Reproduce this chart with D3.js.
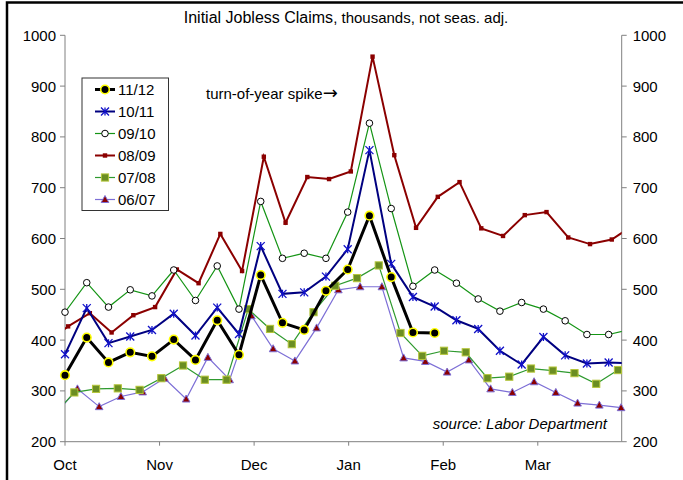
<!DOCTYPE html>
<html>
<head>
<meta charset="utf-8">
<script src="https://cdn.jsdelivr.net/npm/d3@7/dist/d3.min.js"></script>
<style>
  body { margin: 0; background: #fff; }
  svg { display: block; font-family: Arial, "Liberation Sans", sans-serif; }
</style>
</head>
<body>
<div class="svgContainer"></div>
<script>
// Statics
var MONTHS = ["Oct", "Nov", "Dec", "Jan", "Feb", "Mar"];
var Y_TICKS = [200, 300, 400, 500, 600, 700, 800, 900, 1000];
var SEASONS = ["11/12", "10/11", "09/10", "08/09", "07/08", "06/07"];

// weekly initial claims (thousands), week 0 = first week of October
var claims1112 = [331, 405, 356, 376, 368, 401, 361, 439, 371, 528, 434, 420, 497, 539, 645, 524, 415, 414];
var claims1011 = [372, 463, 394, 407, 420, 452, 409, 464, 412, 585, 491, 494, 525, 579, 774, 550, 485, 466, 439, 422, 379, 352, 406, 370, 354, 356];
var claims0910 = [455, 513, 465, 499, 487, 538, 478, 546, 461, 673, 561, 571, 561, 652, 827, 659, 506, 538, 512, 481, 457, 474, 461, 438, 411, 411];
var claims0809 = [427, 453, 415, 449, 465, 539, 512, 609, 536, 761, 631, 721, 717, 732, 958, 764, 621, 682, 711, 620, 605, 646, 652, 602, 589, 598];
var claims0708 = [297, 304, 305, 302, 325, 350, 322, 322, 461, 422, 392, 455, 507, 522, 547, 414, 369, 379, 376, 325, 328, 344, 340, 335, 314, 341];
var claims0607 = [304, 269, 289, 298, 325, 284, 366, 322, 448, 383, 359, 424, 499, 505, 505, 365, 358, 337, 361, 304, 297, 318, 297, 276, 272, 267];
// the week just before / after the window (only the cut-off line ends show)
var claimsBefore = [null, null, null, 395, 250, 255];
var claimsAfter = [null, 354, 421, 626, 360, 265];
// calendar shift of each season's weeks, in days
var SHIFT_DAYS = [0, 0, 0, 1, 3, 4];
// End statics

var ALL = [claims1112, claims1011, claims0910, claims0809, claims0708, claims0607];

var W = 683, H = 480;
var plot = {left: 65, right: 621.7, top: 35.3, bottom: 441.7};
var WEEKS_PER_MONTH = 365.25 / 7 / 12;

var svg = d3.select(".svgContainer").append("svg")
    .attr("width", W)
    .attr("height", H);

// frame
svg.append("path")
    .attr("d", "M7,482 L7,2.5 L690,2.5")
    .attr("fill", "none")
    .attr("stroke", "#000")
    .attr("stroke-width", 2.5);

var x = d3.scaleLinear()
    .domain([0, 25.6])
    .range([plot.left, plot.right]);

var y = d3.scaleLinear()
    .domain([200, 1000])
    .range([plot.bottom, plot.top]);

// line + marker style of each season
var STYLE = [
    {line: "#000000", width: 3,   marker: "dot"},
    {line: "#000080", width: 2,   marker: "star"},
    {line: "#149414", width: 1.2, marker: "ring"},
    {line: "#8b0000", width: 2,   marker: "sq"},
    {line: "#2f9a2f", width: 1.2, marker: "bigsq"},
    {line: "#7d6fd6", width: 1.2, marker: "tri"}
];

function drawMarker(g, kind, cx, cy) {
    if(kind == "dot") {
        g.append("circle").attr("cx", cx).attr("cy", cy).attr("r", 4.3)
            .attr("fill", "#000").attr("stroke", "#ffff00").attr("stroke-width", 1.6);
    }
    else if(kind == "star") {
        var s = 4;
        g.append("path")
            .attr("d", "M" + (cx - s) + "," + (cy - s) + "L" + (cx + s) + "," + (cy + s) +
                "M" + (cx - s) + "," + (cy + s) + "L" + (cx + s) + "," + (cy - s) +
                "M" + cx + "," + (cy - s) + "L" + cx + "," + (cy + s))
            .attr("stroke", "#1010c8").attr("stroke-width", 1.3).attr("fill", "none");
    }
    else if(kind == "ring") {
        g.append("circle").attr("cx", cx).attr("cy", cy).attr("r", 3.3)
            .attr("fill", "#fff").attr("stroke", "#000").attr("stroke-width", 1);
    }
    else if(kind == "sq") {
        g.append("rect").attr("x", cx - 2.2).attr("y", cy - 2.2).attr("width", 4.4).attr("height", 4.4)
            .attr("fill", "#8b0000");
    }
    else if(kind == "bigsq") {
        g.append("rect").attr("x", cx - 3.6).attr("y", cy - 3.6).attr("width", 7.2).attr("height", 7.2)
            .attr("fill", "#6b8e23").attr("stroke", "#b5c63a").attr("stroke-width", 1);
    }
    else if(kind == "tri") {
        g.append("path")
            .attr("d", "M" + cx + "," + (cy - 4) + "L" + (cx + 3.8) + "," + (cy + 3) + "L" + (cx - 3.8) + "," + (cy + 3) + "Z")
            .attr("fill", "#8b0000").attr("stroke", "#7d6fd6").attr("stroke-width", 1);
    }
}

// Axes
var axisColor = "#808080";
var axes = svg.append("g");

axes.append("line").attr("x1", plot.left).attr("x2", plot.left)
    .attr("y1", plot.top).attr("y2", plot.bottom).attr("stroke", axisColor);
axes.append("line").attr("x1", plot.right).attr("x2", plot.right)
    .attr("y1", plot.top).attr("y2", plot.bottom).attr("stroke", axisColor);
axes.append("line").attr("x1", plot.left).attr("x2", plot.right)
    .attr("y1", plot.bottom).attr("y2", plot.bottom).attr("stroke", axisColor);

Y_TICKS.forEach(function(v) {
    var yy = y(v);
    axes.append("line").attr("x1", plot.left - 5).attr("x2", plot.left)
        .attr("y1", yy).attr("y2", yy).attr("stroke", axisColor);
    axes.append("line").attr("x1", plot.right).attr("x2", plot.right + 5)
        .attr("y1", yy).attr("y2", yy).attr("stroke", axisColor);
    axes.append("text").attr("x", plot.left - 9).attr("y", yy).attr("dy", "0.36em")
        .attr("text-anchor", "end").attr("font-size", 15).text(v);
    axes.append("text").attr("x", plot.right + 11).attr("y", yy).attr("dy", "0.36em")
        .attr("text-anchor", "start").attr("font-size", 15).text(v);
});

MONTHS.forEach(function(m, i) {
    var xx = x(i * WEEKS_PER_MONTH);
    axes.append("line").attr("x1", xx).attr("x2", xx)
        .attr("y1", plot.bottom).attr("y2", plot.bottom + 4).attr("stroke", axisColor);
    axes.append("text").attr("x", xx).attr("y", 470)
        .attr("text-anchor", "middle").attr("font-size", 15).text(m);
});

// Series
svg.append("clipPath").attr("id", "plotClip")
    .append("rect")
    .attr("x", plot.left).attr("y", 0)
    .attr("width", plot.right - plot.left).attr("height", H);

function seasonPoints(k) {
    var shift = SHIFT_DAYS[k] / 7;
    var pts = [];
    if(claimsBefore[k] != null) pts.push({w: -1 + shift, v: claimsBefore[k]});
    ALL[k].forEach(function(v, i) { pts.push({w: i + shift, v: v}); });
    if(claimsAfter[k] != null) pts.push({w: ALL[k].length + shift, v: claimsAfter[k]});
    return pts;
}

var line = d3.line()
    .x(function(d) { return x(d.w); })
    .y(function(d) { return y(d.v); });

// oldest season first so 11/12 ends up on top
for(var k = ALL.length - 1; k >= 0; --k) {
    svg.append("path")
        .datum(seasonPoints(k))
        .attr("clip-path", "url(#plotClip)")
        .attr("d", line)
        .attr("fill", "none")
        .attr("stroke", STYLE[k].line)
        .attr("stroke-width", STYLE[k].width)
        .attr("stroke-linejoin", "miter");

    var mg = svg.append("g");
    var shift = SHIFT_DAYS[k] / 7;
    ALL[k].forEach(function(v, i) {
        drawMarker(mg, STYLE[k].marker, x(i + shift), y(v));
    });
}

// Legend
var legend = svg.append("g");
legend.append("rect")
    .attr("x", 82).attr("y", 78)
    .attr("width", 86.5).attr("height", 132.5)
    .attr("fill", "#fff").attr("stroke", "#333").attr("stroke-width", 1);

SEASONS.forEach(function(s, k) {
    var ly = 89.5 + k * 22;
    legend.append("line").attr("x1", 95).attr("x2", 115).attr("y1", ly).attr("y2", ly)
        .attr("stroke", STYLE[k].line).attr("stroke-width", STYLE[k].width);
    drawMarker(legend, STYLE[k].marker, 105, ly);
    legend.append("text").attr("x", 118).attr("y", ly).attr("dy", "0.36em")
        .attr("font-size", 15).text(s);
});

// Title and notes
var title = svg.append("text")
    .attr("x", 346).attr("y", 23)
    .attr("text-anchor", "middle");
title.append("tspan").attr("font-size", 16).text("Initial Jobless Claims");
title.append("tspan").attr("font-size", 15).text(", thousands, not seas. adj.");

var note = svg.append("text")
    .attr("x", 206).attr("y", 93.5).attr("dy", "0.36em")
    .attr("font-size", 15);
note.append("tspan").text("turn-of-year spike");
note.append("tspan")
    .attr("font-family", "'DejaVu Sans', sans-serif")
    .attr("font-size", 18)
    .attr("dy", "0.03em")
    .text("\u2192");

svg.append("text")
    .attr("x", 607).attr("y", 423.5).attr("dy", "0.36em")
    .attr("text-anchor", "end")
    .attr("font-size", 15).attr("font-style", "italic")
    .text("source: Labor Department");
</script>
</body>
</html>
